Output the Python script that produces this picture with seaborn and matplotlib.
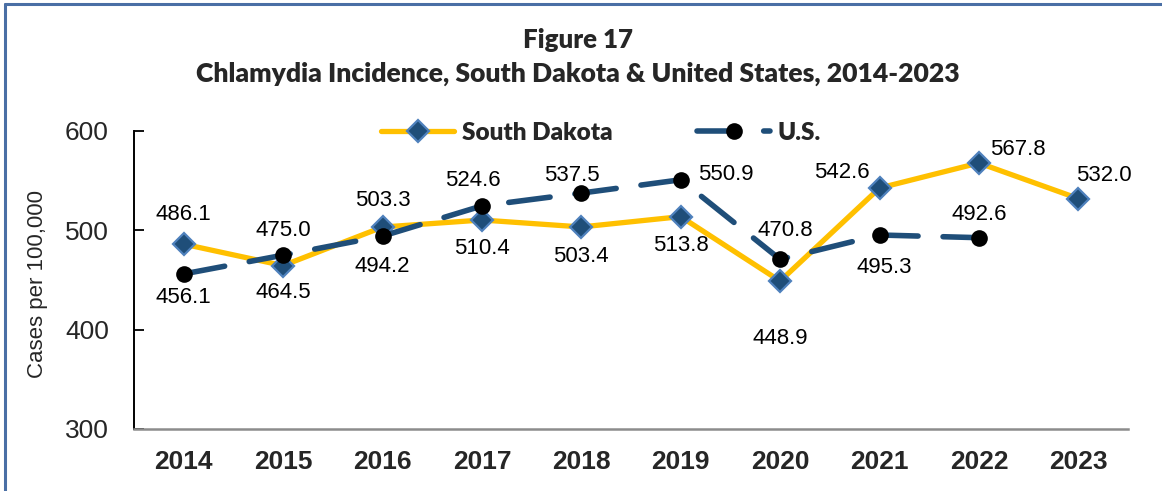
import matplotlib
matplotlib.use("Agg")
import matplotlib.pyplot as plt
from matplotlib.lines import Line2D
import seaborn as sns
import pandas as pd

# ---- data ----
years = [2014, 2015, 2016, 2017, 2018, 2019, 2020, 2021, 2022, 2023]
sd_rates = [486.1, 464.5, 503.3, 510.4, 503.4, 513.8, 448.9, 542.6, 567.8, 532.0]
us_years = [2014, 2015, 2016, 2017, 2018, 2019, 2020, 2021, 2022]
us_rates = [456.1, 475.0, 494.2, 524.6, 537.5, 550.9, 470.8, 495.3, 492.6]
y_ticks = [300, 400, 500, 600]
title1 = "Figure 17"
title2 = "Chlamydia Incidence, South Dakota & United States, 2014-2023"
ylabel = "Cases per 100,000"

# label offsets in pixels (layout only)
sd_off = [(0, 30), (0, -27), (0, 27), (0, -28), (0, -30), (0, -29),
          (0, -57), (-38, 16), (39, 13), (26, 23)]
us_off = [(0, -24), (0, 25), (0, -30), (-9, 25), (-9, 18), (45, 5),
          (5, 29), (5, -32), (0, 23)]

sns.set_theme(style="white")
plt.rcParams['font.family'] = ['Liberation Sans', 'DejaVu Sans']

W, H = 1162, 491
fig = plt.figure(figsize=(W / 100, H / 100), dpi=100)
fig.patch.set_facecolor("white")
ax = fig.add_axes([134 / W, 1 - 429 / H, (1128 - 134) / W, (429 - 131) / H])
ax.set_facecolor("white")

SD_COL = "#FFC000"
US_COL = "#1F4E79"
DIA_FC = "#1F4E79"
DIA_EC = "#4F81BD"

df_sd = pd.DataFrame({"Year": years, "Rate": sd_rates})
df_us = pd.DataFrame({"Year": us_years, "Rate": us_rates})

sns.lineplot(data=df_sd, x="Year", y="Rate", ax=ax, color=SD_COL, linewidth=3.8,
             marker="D", markersize=11, markerfacecolor=DIA_FC,
             markeredgecolor=DIA_EC, markeredgewidth=1.6, zorder=3,
             solid_joinstyle="round", solid_capstyle="round")
sns.lineplot(data=df_us, x="Year", y="Rate", ax=ax, color=US_COL, linewidth=4,
             linestyle=(0, (7.5, 4.5)), dash_capstyle="round",
             marker="o", markersize=12, markerfacecolor="black",
             markeredgecolor="black", markeredgewidth=0, zorder=4)

for x, y, (dx, dy) in zip(years, sd_rates, sd_off):
    ax.annotate(f"{y:.1f}", (x, y), xytext=(dx, dy), textcoords="offset pixels",
                ha="center", va="center", fontsize=16, color="black", zorder=6)
for x, y, (dx, dy) in zip(us_years, us_rates, us_off):
    ax.annotate(f"{y:.1f}", (x, y), xytext=(dx, dy), textcoords="offset pixels",
                ha="center", va="center", fontsize=16, color="black", zorder=6)

ax.set_xlim(years[0] - 0.5, years[-1] + 0.5)
ax.set_ylim(y_ticks[0], y_ticks[-1])
ax.set_xticks(years)
ax.set_xticklabels([str(y) for y in years], fontsize=19, fontweight="bold")
ax.set_xticks([y + 0.5 for y in [years[0] - 1] + years], minor=True)
ax.set_yticks(y_ticks)
ax.set_yticklabels([str(t) for t in y_ticks], fontsize=19)
ax.tick_params(axis="x", which="major", length=0, pad=15)
ax.tick_params(axis="x", which="minor", direction="in", length=7, width=1.5,
               color="#8C8C8C")
ax.tick_params(axis="y", which="major", direction="in", length=7, width=1.3,
               color="black", pad=18, left=True)
ax.set_xlabel("")
ax.set_ylabel("")
for s in ["top", "right"]:
    ax.spines[s].set_visible(False)
ax.spines["left"].set_color("black")
ax.spines["left"].set_linewidth(1.4)
ax.spines["bottom"].set_color("#8C8C8C")
ax.spines["bottom"].set_linewidth(1.8)
ax.grid(False)

fig.text(38 / W, 1 - 284 / H, ylabel, rotation=90, ha="center", va="center",
         fontsize=16)

# titles, fitted to width
renderer = fig.canvas.get_renderer()
def fit_text(txt, x, y, target_px, fs=16):
    t = fig.text(x / W, 1 - y / H, txt, ha="center", va="center",
                 fontsize=fs, fontweight="heavy", family=["Lato", "DejaVu Sans"])
    w = t.get_window_extent(renderer).width
    t.set_fontsize(fs * target_px / w)
    return t

fit_text(title1, 578, 40, 110)
fit_text(title2, 578, 74, 763)

handles = [
    Line2D([0], [0], color=SD_COL, lw=3.8, marker="D", markersize=11,
           markerfacecolor=DIA_FC, markeredgecolor=DIA_EC, markeredgewidth=1.6),
    Line2D([0], [0], color=US_COL, lw=4, linestyle=(0, (7.5, 4.5)),
           dash_capstyle="round", marker="o", markersize=12,
           markerfacecolor="black", markeredgewidth=0),
]
fig.legend(handles, ["South Dakota", "U.S."], loc="center",
           bbox_to_anchor=(601 / W, 1 - 133 / H), ncol=2, frameon=False,
           handlelength=3.0, handletextpad=0.3, columnspacing=3.5,
           prop={"family": ["Lato", "DejaVu Sans"], "weight": "heavy", "size": 17.5})

# outer border (top and left visible)
BORDER = "#4A6FA5"
fig.add_artist(Line2D([5 / W, 1], [1 - 3.5 / H, 1 - 3.5 / H], color=BORDER,
                      lw=2.2, transform=fig.transFigure))
fig.add_artist(Line2D([5 / W, 5 / W], [0, 1 - 3.5 / H], color=BORDER,
                      lw=2.2, transform=fig.transFigure))

fig.savefig("out.png", dpi=100, facecolor="white")
